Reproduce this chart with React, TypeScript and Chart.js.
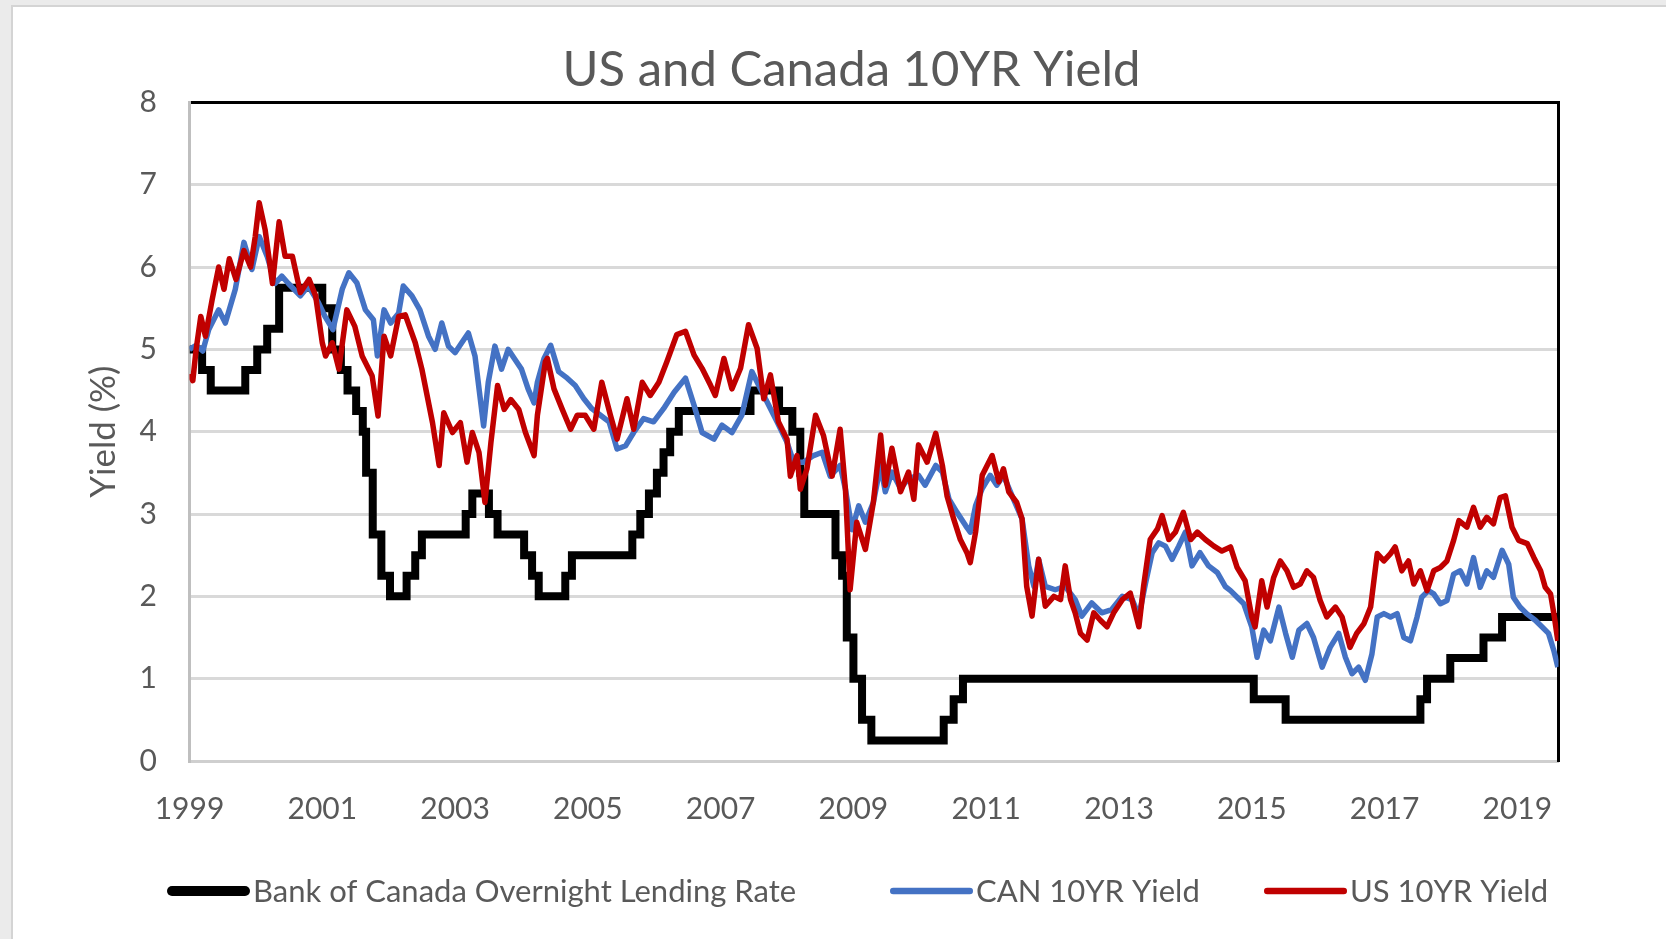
import React, { useEffect, useRef } from "react";
import { Chart, registerables } from "chart.js";

Chart.register(...registerables);

const FONT = 'Lato, "Open Sans", sans-serif';
const TEXT = "#595959";
const GRID = "#D9D9D9";

const chartTitle = "US and Canada 10YR Yield";
const yAxisTitle = "Yield (%)";
const seriesNames = ["Bank of Canada Overnight Lending Rate", "CAN 10YR Yield", "US 10YR Yield"];
const seriesColors = ["#000000", "#4472C4", "#C00000"];
const yearTicks = [1999, 2001, 2003, 2005, 2007, 2009, 2011, 2013, 2015, 2017, 2019];
const yTickValues = [0, 1, 2, 3, 4, 5, 6, 7, 8];
const xMin = 1999;
const xMax = 2019.62;
const yMin = 0;
const yMax = 8;

// Bank of Canada overnight rate: date of each change (decimal year) and new rate
const bocDates = [
  1999.0, 1999.19, 1999.32, 1999.84, 2000.02, 2000.17, 2000.35, 2001.0, 2001.15, 2001.28, 2001.38,
  2001.51, 2001.61, 2001.66, 2001.76, 2001.89, 2002.02, 2002.27, 2002.4, 2002.5, 2003.16, 2003.26,
  2003.51, 2003.64, 2004.04, 2004.16, 2004.26, 2004.66, 2004.76, 2005.67, 2005.79, 2005.92, 2006.04,
  2006.14, 2006.24, 2006.37, 2007.45, 2007.88, 2008.08, 2008.2, 2008.26, 2008.73, 2008.83, 2008.9,
  2009.0, 2009.13, 2009.27, 2010.36, 2010.51, 2010.65, 2015.03, 2015.51, 2017.54, 2017.64, 2017.99,
  2018.49, 2018.77, 2019.62,
];
const bocRates = [
  5.0, 4.75, 4.5, 4.75, 5.0, 5.25, 5.75, 5.5, 5.0, 4.75, 4.5,
  4.25, 4.0, 3.5, 2.75, 2.25, 2.0, 2.25, 2.5, 2.75, 3.0, 3.25,
  3.0, 2.75, 2.5, 2.25, 2.0, 2.25, 2.5, 2.75, 3.0, 3.25, 3.5,
  3.75, 4.0, 4.25, 4.5, 4.25, 4.0, 3.5, 3.0, 2.5, 2.25, 1.5,
  1.0, 0.5, 0.25, 0.5, 0.75, 1.0, 0.75, 0.5, 0.75, 1.0, 1.25,
  1.5, 1.75, 1.75,
];

const canDates = [
  1999.0, 1999.1, 1999.2, 1999.29, 1999.44, 1999.54, 1999.69, 1999.82, 1999.94, 2000.05, 2000.17,
  2000.29, 2000.39, 2000.49, 2000.67, 2000.79, 2000.94, 2001.04, 2001.16, 2001.3, 2001.4, 2001.52,
  2001.65, 2001.77, 2001.83, 2001.93, 2002.03, 2002.15, 2002.22, 2002.35, 2002.47, 2002.6, 2002.7,
  2002.8, 2002.9, 2003.0, 2003.1, 2003.2, 2003.3, 2003.43, 2003.5, 2003.6, 2003.7, 2003.8,
  2003.9, 2004.0, 2004.1, 2004.19, 2004.24, 2004.34, 2004.44, 2004.56, 2004.69, 2004.81, 2004.94,
  2005.06, 2005.19, 2005.32, 2005.44, 2005.57, 2005.69, 2005.84, 2005.99, 2006.14, 2006.3, 2006.47,
  2006.6, 2006.72, 2006.9, 2007.02, 2007.17, 2007.32, 2007.47, 2007.6, 2007.7, 2007.85, 2008.0,
  2008.1, 2008.25, 2008.4, 2008.53, 2008.65, 2008.8, 2008.88, 2008.98, 2009.08, 2009.18, 2009.3,
  2009.41, 2009.48, 2009.58, 2009.71, 2009.83, 2009.98, 2010.08, 2010.24, 2010.34, 2010.44, 2010.56,
  2010.69, 2010.76, 2010.84, 2010.94, 2011.06, 2011.16, 2011.26, 2011.39, 2011.54, 2011.64, 2011.72,
  2011.79, 2011.89, 2012.04, 2012.19, 2012.34, 2012.44, 2012.59, 2012.74, 2012.89, 2013.05, 2013.2,
  2013.3, 2013.4, 2013.5, 2013.6, 2013.7, 2013.8, 2013.9, 2014.0, 2014.1, 2014.22, 2014.35,
  2014.48, 2014.6, 2014.68, 2014.78, 2014.88, 2015.0, 2015.08, 2015.18, 2015.28, 2015.41, 2015.51,
  2015.61, 2015.71, 2015.83, 2015.93, 2016.06, 2016.18, 2016.31, 2016.41, 2016.51, 2016.61, 2016.71,
  2016.81, 2016.89, 2016.99, 2017.09, 2017.19, 2017.29, 2017.39, 2017.49, 2017.56, 2017.66, 2017.74,
  2017.84, 2017.94, 2018.04, 2018.14, 2018.24, 2018.34, 2018.44, 2018.54, 2018.64, 2018.77, 2018.87,
  2018.94, 2019.04, 2019.14, 2019.27, 2019.37, 2019.47, 2019.55, 2019.61,
];
const canYield = [
  5.0, 5.05, 4.98, 5.24, 5.48, 5.32, 5.73, 6.3, 5.97, 6.37, 6.13,
  5.8, 5.89, 5.8, 5.65, 5.77, 5.57, 5.4, 5.24, 5.73, 5.93, 5.81,
  5.48, 5.36, 4.92, 5.48, 5.32, 5.44, 5.77, 5.65, 5.48, 5.16, 5.0,
  5.32, 5.04, 4.96, 5.08, 5.2, 4.92, 4.07, 4.6, 5.04, 4.76, 5.0,
  4.88, 4.76, 4.52, 4.35, 4.6, 4.89, 5.05, 4.73, 4.65, 4.56, 4.4,
  4.28, 4.2, 4.12, 3.79, 3.83, 3.99, 4.16, 4.12, 4.28, 4.48, 4.65,
  4.32, 3.99, 3.91, 4.08, 3.99, 4.2, 4.73, 4.52, 4.36, 4.12, 3.87,
  3.63, 3.63, 3.71, 3.75, 3.46, 3.59, 3.3, 2.81, 3.1, 2.9, 3.14,
  3.59, 3.27, 3.51, 3.31, 3.43, 3.47, 3.35, 3.59, 3.51, 3.18, 3.02,
  2.86, 2.78, 3.1, 3.31, 3.47, 3.35, 3.47, 3.22, 2.94, 2.37, 2.12,
  2.45, 2.12, 2.08, 2.12, 1.96, 1.76, 1.92, 1.8, 1.84, 2.0, 1.96,
  1.76, 2.16, 2.53, 2.65, 2.61, 2.45, 2.61, 2.78, 2.37, 2.53, 2.37,
  2.29, 2.12, 2.07, 1.99, 1.91, 1.63, 1.26, 1.59, 1.46, 1.87, 1.55,
  1.26, 1.59, 1.67, 1.5, 1.14, 1.38, 1.55, 1.26, 1.06, 1.14, 0.98,
  1.3, 1.75, 1.79, 1.75, 1.79, 1.5, 1.46, 1.75, 1.99, 2.07, 2.03,
  1.91, 1.95, 2.27, 2.31, 2.15, 2.47, 2.11, 2.31, 2.23, 2.56, 2.39,
  1.99, 1.87, 1.79, 1.71, 1.63, 1.55, 1.34, 1.14,
];

const usDates = [
  1999.0, 1999.05, 1999.1, 1999.17, 1999.24, 1999.34, 1999.44, 1999.52, 1999.6, 1999.7, 1999.82,
  1999.92, 1999.99, 2000.05, 2000.14, 2000.25, 2000.35, 2000.44, 2000.55, 2000.67, 2000.8, 2000.9,
  2001.0, 2001.05, 2001.15, 2001.25, 2001.37, 2001.49, 2001.6, 2001.75, 2001.84, 2001.93, 2002.03,
  2002.15, 2002.25, 2002.4, 2002.5, 2002.66, 2002.76, 2002.83, 2002.96, 2003.08, 2003.18, 2003.26,
  2003.36, 2003.45, 2003.54, 2003.64, 2003.74, 2003.84, 2003.96, 2004.06, 2004.19, 2004.24, 2004.36,
  2004.39, 2004.49, 2004.61, 2004.74, 2004.84, 2004.96, 2005.09, 2005.21, 2005.34, 2005.44, 2005.59,
  2005.69, 2005.82, 2005.94, 2006.07, 2006.19, 2006.34, 2006.47, 2006.6, 2006.72, 2006.85, 2006.92,
  2007.05, 2007.17, 2007.3, 2007.42, 2007.55, 2007.65, 2007.75, 2007.87, 2008.0, 2008.05, 2008.15,
  2008.2, 2008.3, 2008.43, 2008.55, 2008.68, 2008.8, 2008.88, 2008.95, 2009.05, 2009.18, 2009.3,
  2009.41, 2009.48, 2009.58, 2009.71, 2009.83, 2009.91, 2009.98, 2010.11, 2010.24, 2010.34, 2010.41,
  2010.51, 2010.61, 2010.71, 2010.76, 2010.84, 2010.94, 2011.09, 2011.19, 2011.26, 2011.34, 2011.46,
  2011.54, 2011.61, 2011.69, 2011.79, 2011.89, 2012.02, 2012.12, 2012.19, 2012.27, 2012.34, 2012.42,
  2012.52, 2012.62, 2012.72, 2012.82, 2012.92, 2013.05, 2013.17, 2013.3, 2013.37, 2013.47, 2013.58,
  2013.65, 2013.75, 2013.85, 2013.97, 2014.08, 2014.18, 2014.3, 2014.43, 2014.55, 2014.68, 2014.78,
  2014.9, 2015.0, 2015.05, 2015.15, 2015.23, 2015.33, 2015.43, 2015.53, 2015.63, 2015.73, 2015.83,
  2015.93, 2016.03, 2016.13, 2016.26, 2016.36, 2016.48, 2016.58, 2016.69, 2016.79, 2016.89, 2016.99,
  2017.09, 2017.16, 2017.26, 2017.36, 2017.44, 2017.54, 2017.64, 2017.74, 2017.84, 2017.94, 2018.04,
  2018.12, 2018.24, 2018.34, 2018.44, 2018.54, 2018.64, 2018.74, 2018.82, 2018.92, 2019.02, 2019.15,
  2019.25, 2019.35, 2019.42, 2019.5, 2019.55, 2019.61,
];
const usYield = [
  4.7, 4.62, 5.0, 5.4, 5.16, 5.6, 6.0, 5.73, 6.1, 5.85, 6.2,
  6.0, 6.37, 6.78, 6.45, 5.8, 6.55, 6.13, 6.13, 5.69, 5.85, 5.65,
  5.08, 4.92, 5.08, 4.76, 5.48, 5.28, 4.92, 4.68, 4.19, 5.16, 4.92,
  5.4, 5.42, 5.08, 4.76, 4.11, 3.59, 4.23, 3.99, 4.11, 3.63, 3.99,
  3.75, 3.14, 3.87, 4.56, 4.27, 4.39, 4.27, 3.99, 3.71, 4.2, 4.85,
  4.89, 4.52, 4.28, 4.03, 4.2, 4.2, 4.03, 4.6, 4.2, 3.91, 4.4,
  4.03, 4.6, 4.44, 4.6, 4.85, 5.18, 5.22, 4.93, 4.77, 4.56, 4.44,
  4.89, 4.52, 4.77, 5.3, 5.01, 4.4, 4.69, 4.12, 3.91, 3.46, 3.71,
  3.3, 3.55, 4.2, 3.95, 3.46, 4.03, 3.3, 2.08, 2.9, 2.57, 3.14,
  3.96, 3.35, 3.8, 3.27, 3.51, 3.18, 3.84, 3.63, 3.98, 3.59, 3.22,
  2.94, 2.69, 2.53, 2.41, 2.78, 3.47, 3.71, 3.39, 3.55, 3.27, 3.14,
  2.94, 2.12, 1.76, 2.45, 1.88, 2.0, 1.96, 2.37, 1.96, 1.8, 1.55,
  1.47, 1.8, 1.71, 1.63, 1.8, 1.96, 2.04, 1.63, 2.12, 2.69, 2.82,
  2.98, 2.69, 2.78, 3.02, 2.69, 2.78, 2.69, 2.61, 2.55, 2.6, 2.35,
  2.19, 1.75, 1.63, 2.19, 1.87, 2.23, 2.43, 2.31, 2.11, 2.15, 2.31,
  2.23, 1.95, 1.75, 1.87, 1.75, 1.38, 1.55, 1.67, 1.87, 2.52, 2.43,
  2.52, 2.6, 2.31, 2.43, 2.15, 2.31, 2.07, 2.31, 2.35, 2.43, 2.68,
  2.92, 2.84, 3.08, 2.84, 2.96, 2.88, 3.2, 3.22, 2.84, 2.68, 2.64,
  2.47, 2.31, 2.11, 2.03, 1.79, 1.46,
];

const toPoints = (xs: number[], ys: number[]) => xs.map((x, i) => ({ x, y: ys[i] }));

// legend styling (canvas px)
const legendLineStarts = [154, 877, 1251];
const legendLineLength = 83;
const legendLineWidths = [10, 6.5, 6.5];
const legendTextGap = 3;

const legendPlugin = {
  id: "lineLegend",
  afterDraw(chart: any) {
    const { ctx } = chart;
    const y = chart.height - 47;
    ctx.save();
    ctx.font = `31px ${FONT}`;
    seriesNames.forEach((name, i) => {
      const lw = legendLineWidths[i];
      const x0 = legendLineStarts[i];
      ctx.beginPath();
      ctx.lineCap = "round";
      ctx.lineWidth = lw;
      ctx.strokeStyle = seriesColors[i];
      ctx.moveTo(x0 + lw / 2, y - 1);
      ctx.lineTo(x0 + legendLineLength - lw / 2, y - 1);
      ctx.stroke();
      ctx.fillStyle = TEXT;
      ctx.textAlign = "left";
      ctx.textBaseline = "middle";
      ctx.fillText(name, x0 + legendLineLength + legendTextGap, y);
    });
    ctx.restore();
  },
};

const hideEdges = (c: any) =>
  c.tick && (c.tick.value === yMin || c.tick.value === yMax) ? "rgba(0,0,0,0)" : GRID;

export default function App() {
  const ref = useRef<HTMLCanvasElement>(null);
  useEffect(() => {
    const chart = new Chart(ref.current as HTMLCanvasElement, {
      type: "line",
      data: {
        datasets: [
          {
            label: seriesNames[0],
            data: toPoints(bocDates, bocRates),
            borderColor: seriesColors[0],
            backgroundColor: seriesColors[0],
            borderWidth: 8,
            stepped: true,
            pointRadius: 0,
            borderJoinStyle: "miter",
            order: 3,
          },
          {
            label: seriesNames[1],
            data: toPoints(canDates, canYield),
            borderColor: seriesColors[1],
            backgroundColor: seriesColors[1],
            borderWidth: 5.5,
            pointRadius: 0,
            borderJoinStyle: "round",
            order: 2,
          },
          {
            label: seriesNames[2],
            data: toPoints(usDates, usYield),
            borderColor: seriesColors[2],
            backgroundColor: seriesColors[2],
            borderWidth: 5.5,
            pointRadius: 0,
            borderJoinStyle: "round",
            order: 1,
          },
        ],
      },
      options: {
        responsive: false,
        animation: false,
        devicePixelRatio: 1,
        layout: { padding: { left: 24, right: 0, top: 0, bottom: 118 } },
        plugins: {
          legend: { display: false },
          tooltip: { enabled: false },
          title: {
            display: true,
            text: chartTitle,
            color: TEXT,
            font: { family: FONT, size: 49, weight: "normal", lineHeight: 1.2 },
            padding: { top: 34, bottom: 1.6 },
          },
        },
        scales: {
          x: {
            type: "linear",
            position: "bottom",
            min: xMin,
            max: xMax,
            afterBuildTicks: (s: any) => {
              s.ticks = yearTicks.map((v) => ({ value: v }));
            },
            afterFit: (s: any) => {
              s.height = 60;
            },
            grid: { display: false, drawTicks: false },
            border: { display: true, color: "#CFCFCF", width: 3 },
            ticks: {
              color: TEXT,
              font: { family: FONT, size: 30 },
              padding: 30,
              maxRotation: 0,
              autoSkip: false,
              callback: (v: any) => String(v),
            },
          },
          xTop: {
            type: "linear",
            position: "top",
            afterFit: (s: any) => {
              s.height = 1;
            },
            grid: { display: false, drawTicks: false },
            border: { display: true, color: "#000000", width: 3 },
            ticks: { display: false },
          },
          y: {
            type: "linear",
            position: "left",
            min: yMin,
            max: yMax,
            afterBuildTicks: (s: any) => {
              s.ticks = yTickValues.map((v) => ({ value: v }));
            },
            afterFit: (s: any) => {
              s.width = 152.5;
            },
            grid: { color: hideEdges, lineWidth: 3, drawTicks: false },
            border: { display: true, color: "#BFBFBF", width: 3 },
            ticks: {
              color: TEXT,
              font: { family: FONT, size: 30 },
              padding: 32.5,
              callback: (v: any) => String(v),
            },
            title: {
              display: true,
              text: yAxisTitle,
              color: TEXT,
              font: { family: FONT, size: 35, lineHeight: 1.2 },
              padding: { top: 46, bottom: 0 },
            },
          },
          yRight: {
            type: "linear",
            position: "right",
            afterFit: (s: any) => {
              s.width = 107.5;
            },
            grid: { display: false, drawTicks: false },
            border: { display: true, color: "#000000", width: 3 },
            ticks: { display: false },
          },
        },
      },
      plugins: [legendPlugin],
    } as any);
    return () => chart.destroy();
  }, []);

  return (
    <div
      style={{
        position: "fixed",
        left: 0,
        top: 0,
        width: 1666,
        height: 939,
        background: "#EBEBEB",
        overflow: "hidden",
      }}
    >
      <div
        style={{
          position: "absolute",
          left: 11,
          top: 5,
          width: 1653,
          height: 932,
          borderLeft: "2px solid #D4D4D4",
          borderTop: "2px solid #D4D4D4",
          background: "#FFFFFF",
        }}
      >
        <canvas ref={ref} width={1653} height={932} style={{ display: "block", width: 1653, height: 932 }} />
      </div>
    </div>
  );
}
